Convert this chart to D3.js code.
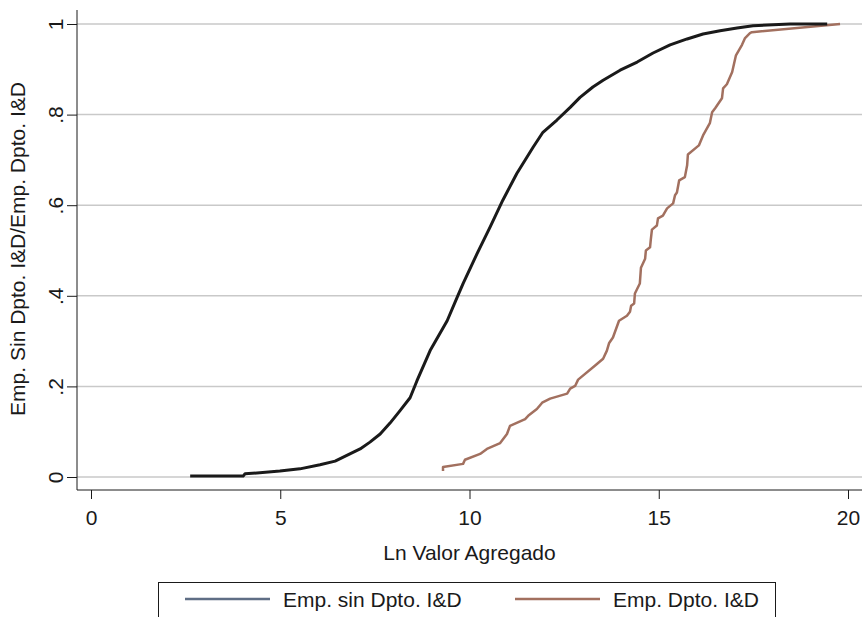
<!DOCTYPE html>
<html>
<head>
<meta charset="utf-8">
<script src="https://cdn.jsdelivr.net/npm/d3@7"></script>
<style>
  body { margin: 0; background: #fff; }
  text { font-family: "Liberation Sans", Arial, Helvetica, sans-serif; fill: #1a1a1a; }
</style>
</head>
<body>
<div id="chart"></div>
<script>
var sinX = [2.62, 4.02, 4.07, 4.99, 5.52, 6.05, 6.45, 6.84, 7.11, 7.37, 7.64, 7.90, 8.16, 8.43, 8.61, 8.96, 9.41, 9.67, 9.83, 10.20, 10.54, 10.88, 11.25, 11.68, 11.94, 12.31, 12.66, 12.92, 13.26, 13.53, 13.98, 14.43, 14.85, 15.30, 15.75, 16.17, 16.62, 17.07, 17.49, 18.47, 19.45];
var sinY = [0.002, 0.002, 0.007, 0.013, 0.018, 0.027, 0.035, 0.051, 0.062, 0.077, 0.095, 0.119, 0.146, 0.175, 0.212, 0.279, 0.345, 0.396, 0.427, 0.493, 0.551, 0.611, 0.670, 0.728, 0.761, 0.788, 0.816, 0.838, 0.861, 0.876, 0.898, 0.916, 0.936, 0.954, 0.967, 0.978, 0.985, 0.991, 0.996, 1.0, 1.0];

var conX = [9.30, 9.30, 9.83, 9.88, 10.28, 10.46, 10.81, 10.99, 11.07, 11.47, 11.55, 11.78, 11.92, 12.13, 12.58, 12.66, 12.79, 12.87, 13.32, 13.53, 13.63, 13.69, 13.79, 13.95, 14.16, 14.24, 14.27, 14.35, 14.37, 14.50, 14.53, 14.64, 14.66, 14.77, 14.79, 14.82, 14.95, 14.98, 15.11, 15.22, 15.38, 15.43, 15.48, 15.54, 15.69, 15.75, 15.77, 16.06, 16.17, 16.35, 16.41, 16.49, 16.67, 16.70, 16.80, 16.94, 17.04, 17.20, 17.28, 17.41, 17.46, 19.79];
var conY = [0.013, 0.022, 0.029, 0.038, 0.051, 0.062, 0.075, 0.095, 0.113, 0.128, 0.135, 0.150, 0.164, 0.173, 0.184, 0.195, 0.201, 0.215, 0.246, 0.261, 0.279, 0.296, 0.308, 0.345, 0.356, 0.365, 0.378, 0.383, 0.405, 0.427, 0.462, 0.482, 0.500, 0.507, 0.524, 0.546, 0.555, 0.571, 0.577, 0.593, 0.604, 0.622, 0.628, 0.655, 0.662, 0.688, 0.712, 0.732, 0.754, 0.781, 0.805, 0.814, 0.836, 0.858, 0.867, 0.894, 0.931, 0.954, 0.969, 0.980, 0.982, 1.0];

var xTicks = [0, 5, 10, 15, 20];
var yTicks = [0, 0.2, 0.4, 0.6, 0.8, 1];
var yTickLabels = ["0", ".2", ".4", ".6", ".8", "1"];
var seriesNames = ["Emp. sin Dpto. I&D", "Emp. Dpto. I&D"];

var width = 862, height = 617;
var plotLeft = 77, plotRight = 862, axisY = 490;
var fontSize = "21px";

var svg = d3.select("#chart").append("svg")
    .attr("width", width)
    .attr("height", height);

svg.append("rect").attr("width", width).attr("height", height).attr("fill", "#fff");

var x = d3.scaleLinear().domain([0, 20]).range([91, 848]);
var y = d3.scaleLinear().domain([0, 1]).range([477, 24]);

// gridlines
svg.append("g").selectAll("line")
    .data(yTicks)
    .enter().append("line")
    .attr("x1", plotLeft).attr("x2", plotRight)
    .attr("y1", function(d) { return y(d); })
    .attr("y2", function(d) { return y(d); })
    .attr("stroke", "#c9c9c9")
    .attr("stroke-width", 1.5);

// y axis
var yAxis = svg.append("g")
    .attr("transform", "translate(" + plotLeft + ",0)")
    .call(d3.axisLeft(y).tickValues(yTicks).tickSize(10)
        .tickFormat(function(d, i) { return yTickLabels[i]; }));
yAxis.select(".domain").remove();
yAxis.selectAll(".tick line").attr("stroke", "#1a1a1a");
yAxis.selectAll(".tick text")
    .attr("x", null).attr("dy", null)
    .attr("text-anchor", "middle")
    .attr("transform", "translate(-14,0) rotate(-90)")
    .style("font-size", fontSize);
svg.append("line")
    .attr("x1", plotLeft).attr("x2", plotLeft)
    .attr("y1", 10).attr("y2", axisY)
    .attr("stroke", "#1a1a1a").attr("stroke-width", 1);

// x axis
var xAxis = svg.append("g")
    .attr("transform", "translate(0," + axisY + ")")
    .call(d3.axisBottom(x).tickValues(xTicks).tickSize(9).tickPadding(11));
xAxis.select(".domain").remove();
xAxis.selectAll(".tick line").attr("stroke", "#1a1a1a");
xAxis.selectAll(".tick text").style("font-size", fontSize);
svg.append("line")
    .attr("x1", plotLeft).attr("x2", plotRight)
    .attr("y1", axisY).attr("y2", axisY)
    .attr("stroke", "#1a1a1a").attr("stroke-width", 1);

// titles
svg.append("text")
    .attr("x", (plotLeft + plotRight) / 2)
    .attr("y", 560)
    .attr("text-anchor", "middle")
    .style("font-size", fontSize)
    .text("Ln Valor Agregado");

svg.append("text")
    .attr("transform", "translate(25,249) rotate(-90)")
    .attr("text-anchor", "middle")
    .style("font-size", fontSize)
    .text("Emp. Sin Dpto. I&D/Emp. Dpto. I&D");

// lines
var line = d3.line()
    .x(function(d) { return x(d[0]); })
    .y(function(d) { return y(d[1]); });

svg.append("path")
    .datum(d3.zip(conX, conY))
    .attr("d", line)
    .attr("fill", "none")
    .attr("stroke", "#a2705f")
    .attr("stroke-width", 2.5)
    .attr("stroke-linejoin", "round");

svg.append("path")
    .datum(d3.zip(sinX, sinY))
    .attr("d", line)
    .attr("fill", "none")
    .attr("stroke", "#1a1a1a")
    .attr("stroke-width", 3)
    .attr("stroke-linejoin", "round");

// legend
var legend = svg.append("g");
legend.append("rect")
    .attr("x", 158.5).attr("y", 582.5)
    .attr("width", 617).attr("height", 60)
    .attr("fill", "#fff")
    .attr("stroke", "#1a1a1a").attr("stroke-width", 1);

var legendColors = ["#5f6e85", "#a2705f"];
var legendX = [185, 515];
legend.selectAll(".item")
    .data(seriesNames)
    .enter().append("g")
    .attr("class", "item")
    .each(function(d, i) {
        var g = d3.select(this);
        g.append("line")
            .attr("x1", legendX[i]).attr("x2", legendX[i] + 85)
            .attr("y1", 599).attr("y2", 599)
            .attr("stroke", legendColors[i])
            .attr("stroke-width", 2.5);
        g.append("text")
            .attr("x", legendX[i] + 98)
            .attr("y", 607)
            .style("font-size", fontSize)
            .text(d);
    });
</script>
</body>
</html>
